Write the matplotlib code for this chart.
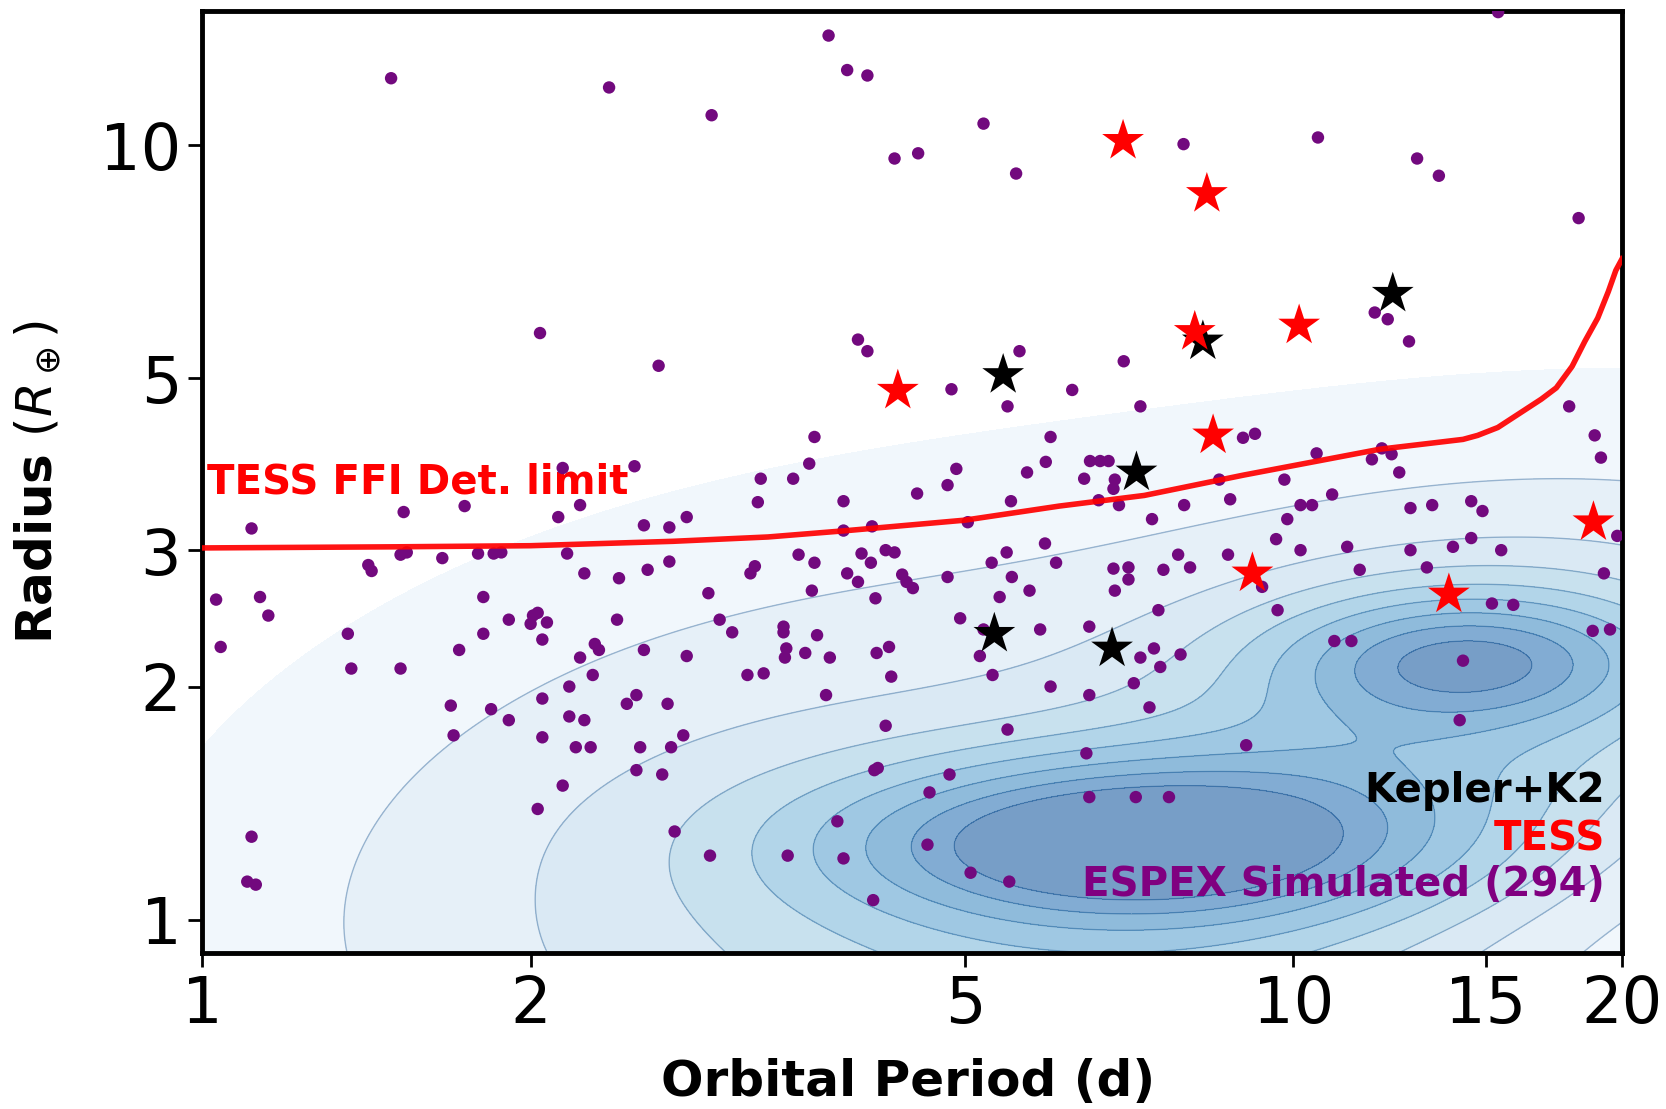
import numpy as np
import matplotlib
matplotlib.use("Agg")
import matplotlib.pyplot as plt
from matplotlib.ticker import FixedLocator, FixedFormatter, NullLocator

# ---------------- data ----------------
sim_period = [3.75, 15.4, 1.49, 2.36, 3.90, 4.07, 2.93, 4.31, 4.53, 5.57, 5.20, 7.93, 10.53, 12.98, 13.59, 18.25,
              2.04, 2.62, 3.99, 4.07, 5.61, 4.86, 6.27, 5.47, 7.24, 6.99, 11.87, 12.2, 12.76, 17.89, 18.88, 19.13,
              3.64, 3.60, 3.48, 3.25, 3.23, 3.87, 4.52, 4.91, 4.82, 5.99, 5.93, 5.70, 5.51, 6.51, 6.65, 6.77,
              6.43, 6.86, 6.84, 6.63, 6.92, 2.78, 2.68, 3.87, 4.11, 5.03, 2.68, 3.52, 3.64, 3.21, 3.18, 4.02,
              4.10, 4.23, 4.31, 3.90, 3.99, 4.38, 4.42, 4.48, 4.82, 3.62, 5.46, 5.29, 5.92, 6.06, 5.52, 5.73,
              5.38, 6.84, 7.06, 7.06, 6.86, 2.91, 2.98, 3.06, 4.14, 3.41, 3.41, 3.66, 3.43, 3.42, 3.57, 3.76,
              4.15, 4.26, 2.78, 4.95, 5.86, 6.50, 5.20, 5.16, 5.30, 7.24, 3.16, 3.27, 4.28, 1.11, 1.53, 1.74,
              2.14, 2.22, 2.12, 2.49, 2.54, 1.42, 1.43, 1.52, 1.54, 1.66, 1.79, 1.85, 1.88, 2.16, 2.24, 2.41,
              2.56, 1.03, 1.13, 1.15, 1.04, 1.36, 1.37, 1.52, 1.81, 1.81, 1.72, 1.91, 2.01, 2.03, 2.00, 2.07,
              2.05, 2.40, 2.29, 2.31, 2.22, 2.28, 2.54, 1.69, 1.70, 1.84, 1.91, 2.05, 2.05, 2.17, 2.17, 2.24,
              2.20, 2.27, 2.45, 2.50, 2.67, 2.52, 2.69, 2.50, 2.64, 2.14, 2.03, 1.11, 1.10, 1.12, 2.71, 2.76,
              2.92, 3.44, 3.87, 3.82, 3.73, 4.13, 4.16, 4.23, 4.64, 4.84, 4.62, 5.06, 5.49, 4.12, 5.47, 5.99,
              6.50, 7.14, 6.46, 6.50, 7.17, 7.69, 7.38, 9.05, 14.2, 14.3, 10.9, 11.3, 7.45, 7.55, 7.88, 15.2,
              15.9, 18.8, 19.5, 19.25, 19.8, 7.84, 8.04, 7.60, 8.71, 9.36, 7.52, 9.67, 7.94, 8.75, 7.42, 10.85,
              10.15, 10.4, 9.87, 9.64, 10.15, 11.2, 12.8, 13.4, 14.55, 14.9, 12.8, 14.0, 14.55, 15.5, 13.25, 11.5,
              10.5, 12.05, 11.8, 12.3, 12.5, 8.55, 9.81, 8.99, 9.22]
sim_radius = [13.85, 14.85, 12.2, 11.87, 12.5, 12.3, 10.93, 9.61, 9.76, 9.19, 10.66, 10.03, 10.23, 9.61, 9.13, 8.05,
              5.72, 5.19, 5.61, 5.42, 5.42, 4.84, 4.83, 4.60, 4.60, 5.26, 6.08, 5.96, 5.58, 4.60, 4.22, 3.95,
              4.20, 3.88, 3.71, 3.71, 3.46, 3.47, 3.55, 3.82, 3.64, 4.20, 3.90, 3.78, 3.47, 3.91, 3.91, 3.91,
              3.71, 3.70, 3.60, 3.48, 3.43, 3.31, 3.21, 3.18, 3.22, 3.26, 2.90, 2.96, 2.89, 2.86, 2.80, 2.97,
              2.89, 3.00, 2.98, 2.80, 2.73, 2.79, 2.73, 2.68, 2.77, 2.66, 2.98, 2.89, 3.06, 2.89, 2.77, 2.66,
              2.61, 2.84, 2.85, 2.75, 2.66, 2.64, 2.44, 2.35, 2.60, 2.39, 2.35, 2.33, 2.24, 2.18, 2.21, 2.18,
              2.21, 2.25, 2.19, 2.45, 2.37, 2.39, 2.37, 2.19, 2.07, 2.18, 2.07, 2.08, 2.06, 3.20, 3.36, 3.42,
              3.83, 3.43, 3.31, 3.85, 3.23, 2.87, 2.82, 2.96, 2.98, 2.93, 2.97, 2.97, 2.98, 2.97, 2.80, 2.76,
              2.83, 2.59, 2.61, 2.47, 2.25, 2.34, 2.11, 2.11, 2.61, 2.34, 2.23, 2.44, 2.47, 2.49, 2.41, 2.42,
              2.30, 2.44, 2.27, 2.23, 2.18, 2.07, 2.23, 1.89, 1.73, 1.87, 1.81, 1.93, 1.72, 2.00, 1.83, 1.81,
              1.67, 1.67, 1.90, 1.95, 1.90, 1.67, 1.67, 1.56, 1.54, 1.49, 1.39, 1.28, 1.12, 1.11, 1.30, 1.73,
              1.21, 1.21, 1.20, 1.34, 1.95, 1.56, 1.57, 1.78, 1.46, 1.54, 1.25, 1.15, 1.12, 1.06, 1.76, 2.00,
              1.95, 2.02, 1.64, 1.44, 1.44, 1.44, 1.88, 1.68, 1.81, 2.16, 2.29, 2.29, 2.24, 2.12, 2.20, 2.56,
              2.55, 2.36, 2.37, 2.80, 3.13, 2.96, 2.85, 2.83, 2.96, 2.69, 2.51, 2.51, 3.43, 3.49, 3.29, 3.54,
              3.43, 3.43, 3.29, 3.10, 3.00, 3.03, 3.40, 3.43, 3.47, 3.37, 3.00, 3.03, 3.11, 3.00, 2.85, 2.83,
              4.00, 4.06, 3.93, 3.99, 3.78, 3.70, 3.70, 4.19, 4.24]

tess_period = [4.34, 6.98, 8.33, 8.12, 10.12, 8.44, 9.17, 13.88, 18.83]
tess_radius = [4.82, 10.13, 8.65, 5.74, 5.85, 4.22, 2.80, 2.63, 3.26]

kepler_period = [5.42, 12.33, 8.26, 7.18, 5.32, 6.82]
kepler_radius = [5.05, 6.43, 5.58, 3.78, 2.34, 2.24]

limit_period = [1.0, 1.5, 2.0, 2.7, 3.3, 3.9, 5.0, 6.1, 7.3, 9.0, 12.0, 13.5, 14.3, 14.75, 15.39, 16.09,
                16.87, 17.41, 18.0, 18.49, 19.0, 19.43, 19.74, 20.0]
limit_radius = [3.02, 3.03, 3.04, 3.08, 3.12, 3.18, 3.28, 3.42, 3.53, 3.75, 4.05, 4.13, 4.17, 4.22, 4.32, 4.50,
                4.70, 4.86, 5.18, 5.58, 5.98, 6.47, 6.89, 7.13]

# background density (occurrence population) modelled as a mixture in log10(P), log10(R)
kde_logp_center = [0.85, 1.16, 1.12, 1.20, 0.45, 0.85]
kde_logr_center = [0.10, 0.335, 0.24, 0.35, 0.05, -0.10]
kde_logp_sigma = [0.18, 0.11, 0.20, 0.45, 0.32, 0.25]
kde_logr_sigma = [0.072, 0.055, 0.15, 0.25, 0.28, 0.12]
kde_corr = [0.0, 0.0, 0.3, 0.2, 0.2, 0.0]
kde_weight = [1.0, 0.6, 0.4, 0.17, 0.24, 0.3]
kde_level_fraction = [0.045, 0.11, 0.18, 0.25, 0.33, 0.42, 0.52, 0.62, 0.72, 1.01]

x_ticks = [1, 2, 5, 10, 15, 20]
y_ticks = [1, 2, 3, 5, 10]

# ---------------- figure ----------------
fig = plt.figure(figsize=(16.66, 11.09), dpi=100)
ax = fig.add_axes([0.1213, 0.1407, 0.8523, 0.8494])
ax.set_xscale("log")
ax.set_yscale("log")

# density field
u = np.linspace(-0.05, 1.35, 400)
v = np.linspace(-0.08, 1.2, 400)
U, V = np.meshgrid(u, v)
dens = np.zeros_like(U)
for mu, mv, su, sv, r, w in zip(kde_logp_center, kde_logr_center, kde_logp_sigma,
                                kde_logr_sigma, kde_corr, kde_weight):
    a = (U - mu) / su
    b = (V - mv) / sv
    q = (a * a - 2 * r * a * b + b * b) / (1 - r * r)
    dens += w * np.exp(-0.5 * q)
levels = np.array(kde_level_fraction) * dens.max()
P = 10 ** U
R = 10 ** V
cmap = plt.get_cmap("Blues")
ncol = len(levels) - 1
colors = [cmap(0.08 + 0.8 * i / max(ncol - 1, 1)) for i in range(ncol)]
ax.contourf(P, R, dens, levels=levels, colors=colors, alpha=0.55, zorder=0)
ax.contour(P, R, dens, levels=levels[1:-1], colors="#3f6f9f", linewidths=1.0, alpha=0.45, zorder=1)

ax.scatter(sim_period, sim_radius, s=80, color="#72097e", edgecolors="none", zorder=3)
ax.plot(limit_period, limit_radius, color="red", lw=4, alpha=0.92, zorder=4,
        solid_joinstyle="round")
ax.scatter(kepler_period, kepler_radius, marker="*", s=1000, color="black", edgecolors="none", zorder=5)
ax.scatter(tess_period, tess_radius, marker="*", s=1000, color="red", edgecolors="none", zorder=6)

ax.set_xlim(1, 20)
ax.set_ylim(0.906, 14.9)

ax.xaxis.set_major_locator(FixedLocator(x_ticks))
ax.xaxis.set_major_formatter(FixedFormatter([str(t) for t in x_ticks]))
ax.yaxis.set_major_locator(FixedLocator(y_ticks))
ax.yaxis.set_major_formatter(FixedFormatter([str(t) for t in y_ticks]))
ax.xaxis.set_minor_locator(NullLocator())
ax.yaxis.set_minor_locator(NullLocator())
ax.tick_params(axis="both", which="major", length=10, width=2, direction="out", labelsize=46, pad=5)
for sp in ax.spines.values():
    sp.set_linewidth(3.5)

ax.set_xlabel("Orbital Period (d)", fontsize=36, fontweight="bold")
ax.set_ylabel(r"Radius $(R_\oplus)$", fontsize=36, fontweight="bold")
ax.xaxis.set_label_coords(0.497, -0.112)
ax.yaxis.set_label_coords(-0.098, 0.5)

ax.text(0.0035, 0.499, "TESS FFI Det. limit", transform=ax.transAxes, color="red",
        fontsize=29, fontweight="bold", ha="left", va="center", zorder=2)
ax.text(0.988, 0.172, "Kepler+K2", transform=ax.transAxes, color="black",
        fontsize=29, fontweight="bold", ha="right", va="center", zorder=7)
ax.text(0.988, 0.120, "TESS", transform=ax.transAxes, color="red",
        fontsize=29, fontweight="bold", ha="right", va="center", zorder=7)
ax.text(0.988, 0.072, "ESPEX Simulated (294)", transform=ax.transAxes, color="#800080",
        fontsize=29, fontweight="bold", ha="right", va="center", zorder=7)

fig.savefig("out.png", dpi=100)
